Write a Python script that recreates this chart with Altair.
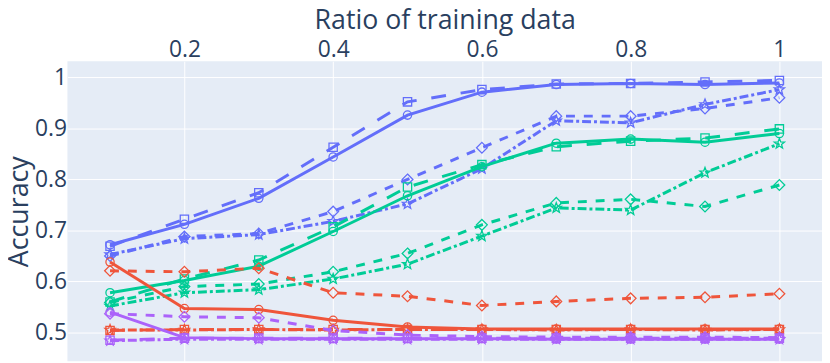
import math
import altair as alt
import pandas as pd

ratio = [0.1, 0.2, 0.3, 0.4, 0.5, 0.6, 0.7, 0.8, 0.9, 1.0]

blue_circle = [0.672, 0.712, 0.763, 0.844, 0.926, 0.971, 0.986, 0.988, 0.986, 0.989]
blue_square = [0.669, 0.722, 0.774, 0.863, 0.952, 0.976, 0.987, 0.988, 0.991, 0.994]
blue_star = [0.653, 0.684, 0.692, 0.718, 0.752, 0.821, 0.915, 0.911, 0.947, 0.976]
blue_diamond = [0.650, 0.688, 0.694, 0.737, 0.800, 0.862, 0.924, 0.924, 0.939, 0.960]

green_circle = [0.578, 0.602, 0.630, 0.698, 0.768, 0.825, 0.871, 0.879, 0.873, 0.890]
green_square = [0.560, 0.605, 0.642, 0.707, 0.785, 0.829, 0.864, 0.875, 0.881, 0.899]
green_star = [0.552, 0.578, 0.584, 0.605, 0.634, 0.689, 0.744, 0.740, 0.813, 0.870]
green_diamond = [0.559, 0.590, 0.595, 0.619, 0.655, 0.711, 0.754, 0.761, 0.747, 0.789]

red_circle = [0.638, 0.547, 0.545, 0.524, 0.511, 0.507, 0.507, 0.507, 0.507, 0.507]
red_square = [0.504, 0.506, 0.506, 0.506, 0.506, 0.506, 0.506, 0.506, 0.506, 0.506]
red_star = [0.505, 0.505, 0.506, 0.505, 0.506, 0.506, 0.505, 0.506, 0.505, 0.506]
red_diamond = [0.621, 0.619, 0.626, 0.578, 0.571, 0.553, 0.561, 0.567, 0.569, 0.576]

purple_circle = [0.540, 0.490, 0.488, 0.488, 0.488, 0.488, 0.487, 0.487, 0.487, 0.487]
purple_square = [0.485, 0.489, 0.489, 0.489, 0.489, 0.489, 0.489, 0.489, 0.489, 0.489]
purple_star = [0.484, 0.487, 0.487, 0.487, 0.487, 0.487, 0.487, 0.487, 0.487, 0.487]
purple_diamond = [0.537, 0.531, 0.529, 0.504, 0.495, 0.492, 0.491, 0.491, 0.491, 0.490]

BLUE, GREEN, RED, PURPLE = "#636EFA", "#00CC96", "#EF553B", "#AB63FA"

series = [
    (BLUE, "circle", blue_circle), (BLUE, "square", blue_square),
    (BLUE, "star", blue_star), (BLUE, "diamond", blue_diamond),
    (GREEN, "circle", green_circle), (GREEN, "square", green_square),
    (GREEN, "star", green_star), (GREEN, "diamond", green_diamond),
    (RED, "circle", red_circle), (RED, "square", red_square),
    (RED, "star", red_star), (RED, "diamond", red_diamond),
    (PURPLE, "circle", purple_circle), (PURPLE, "square", purple_square),
    (PURPLE, "star", purple_star), (PURPLE, "diamond", purple_diamond),
]

star_pts = []
for k in range(10):
    r = 1.3 if k % 2 == 0 else 0.55
    a = -math.pi / 2 + k * math.pi / 5
    star_pts.append(f"{r * math.cos(a):.3f},{r * math.sin(a):.3f}")
STAR = "M" + "L".join(star_pts) + "Z"
DIAMOND = "M0,-1.3L1.3,0L0,1.3L-1.3,0Z"

shapes = {"circle": "circle", "square": "square", "star": STAR, "diamond": DIAMOND}
dashes = {"circle": None, "square": [15, 15], "star": [9, 3, 3, 3], "diamond": [9, 9]}

xenc = alt.X(
    "ratio:Q",
    scale=alt.Scale(domain=[0.0427, 1.0573], nice=False, zero=False),
    axis=alt.Axis(orient="top", values=[0.2, 0.4, 0.6, 0.8, 1.0], format="~g",
                  title="Ratio of training data", labelPadding=0, titlePadding=4,
                  labelFlush=False),
)
yenc = alt.Y(
    "acc:Q",
    scale=alt.Scale(domain=[0.4437, 1.0316], nice=False, zero=False),
    axis=alt.Axis(values=[0.5, 0.6, 0.7, 0.8, 0.9, 1.0], format="~g",
                  title="Accuracy", labelPadding=1, titlePadding=1),
)

layers = []
for color, variant, vals in series:
    df = pd.DataFrame({"ratio": ratio, "acc": vals})
    base = alt.Chart(df)
    lk = dict(color=color, strokeWidth=3, clip=True)
    if dashes[variant]:
        lk["strokeDash"] = dashes[variant]
    line = base.mark_line(**lk).encode(x=xenc, y=yenc)
    pts = base.mark_point(shape=shapes[variant], size=70, color=color,
                          strokeWidth=1.3, filled=False, opacity=1,
                          clip=True).encode(x=xenc, y=yenc)
    layers += [line, pts]

chart = (
    alt.layer(*layers)
    .properties(width=762, height=303,
                padding={"left": 60, "top": 52, "right": 0, "bottom": 0},
                autosize=alt.AutoSizeParams(type="none"))
    .configure_view(fill="#E5ECF6", stroke=None)
    .configure_axis(domain=False, ticks=False, tickSize=0, grid=True,
                    gridColor="white", gridWidth=1,
                    labelFont="Open Sans", labelFontSize=23, labelColor="#2a3f5f",
                    titleFont="Open Sans", titleFontSize=27, titleColor="#2a3f5f",
                    titleFontWeight="normal")
)

chart.save("out.html", embed_options={"renderer": "svg", "actions": False})
